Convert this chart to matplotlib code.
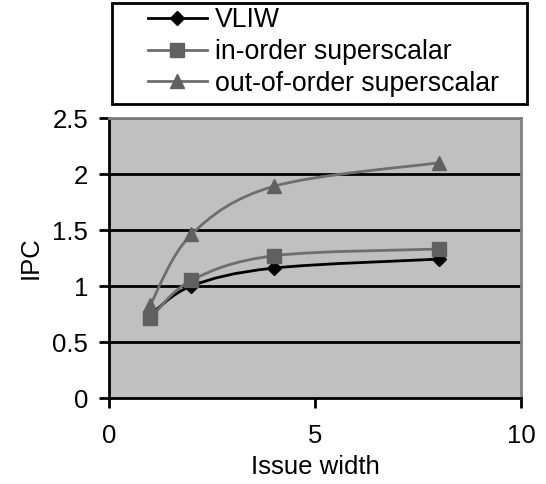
import numpy as np
import matplotlib.pyplot as plt
from matplotlib.path import Path
from matplotlib.patches import PathPatch, Rectangle
from matplotlib.lines import Line2D

plt.rcParams['font.family'] = ['Liberation Sans', 'DejaVu Sans']

issue_width = [1, 2, 4, 8]
vliw = [0.74, 1.00, 1.16, 1.24]
in_order = [0.71, 1.05, 1.27, 1.33]
out_of_order = [0.83, 1.46, 1.89, 2.10]
labels = ['VLIW', 'in-order superscalar', 'out-of-order superscalar']


def smooth_path(x, y):
    # Excel-style smoothed line: cubic bezier segments (catmull-rom tangents)
    pts = np.column_stack([x, y]).astype(float)
    ext = np.vstack([pts[0], pts, pts[-1]])
    verts = [pts[0]]
    codes = [Path.MOVETO]
    for i in range(1, len(ext) - 2):
        p0, p1, p2, p3 = ext[i - 1], ext[i], ext[i + 1], ext[i + 2]
        verts += [p1 + (p2 - p0) / 6, p2 - (p3 - p1) / 6, p2]
        codes += [Path.CURVE4] * 3
    return Path(verts, codes)


W, H = 546, 484
fig = plt.figure(figsize=(W / 100, H / 100), dpi=100)
ax = fig.add_axes([109 / W, 1 - 398 / H, 412 / W, 280 / H])
ax.set_facecolor('#c0c0c0')

styles = [
    (vliw, 'black', 'D', 'black', 7),
    (in_order, '#6e6e6e', 's', '#606060', 10),
    (out_of_order, '#6e6e6e', '^', '#606060', 10),
]
handles = []
for (vals, col, mk, mcol, ms), lab in zip(styles, labels):
    ax.add_patch(PathPatch(smooth_path(issue_width, vals), fill=False,
                           edgecolor=col, lw=2, zorder=3))
    ax.plot(issue_width, vals, linestyle='none', marker=mk, color=mcol,
            markersize=ms, zorder=4)
    handles.append(Line2D([], [], color=col, lw=2, marker=mk, markerfacecolor=mcol,
                          markeredgecolor=mcol, markersize=ms))

ax.set_xlim(0, 10)
ax.set_ylim(0, 2.5)
ax.set_xticks([0, 5, 10])
ax.set_yticks(np.arange(0, 2.51, 0.5))
ax.set_yticklabels(['0', '0.5', '1', '1.5', '2', '2.5'])
for yv in np.arange(0.5, 2.51, 0.5):
    ax.axhline(yv, color='black', lw=2, zorder=1)
ax.tick_params(labelsize=18.5, width=2, length=7, direction='out')
ax.tick_params(axis='y', pad=8)
ax.tick_params(axis='x', pad=12)
for s in ['left', 'bottom']:
    ax.spines[s].set_linewidth(2)
    ax.spines[s].set_color('black')
for s in ['top', 'right']:
    ax.spines[s].set_linewidth(2)
    ax.spines[s].set_color('#808080')
ax.set_xlabel('Issue width', fontsize=18.5, labelpad=5)
ax.set_ylabel('IPC', fontsize=18.5, labelpad=7)

# legend box drawn separately so the entries can sit inset like the original
fig.patches.append(Rectangle((112 / W, 1 - 104 / H), 415 / W, 101 / H,
                             transform=fig.transFigure, facecolor='white',
                             edgecolor='black', lw=2, zorder=0))
leg = fig.legend(handles=handles, labels=labels, loc='upper left',
                 bbox_to_anchor=(148 / W, 1 - 7 / H), fontsize=19.2, frameon=False,
                 handlelength=2.2, handletextpad=0.3, labelspacing=0.22,
                 borderpad=0, borderaxespad=0, numpoints=1)

fig.savefig('out.png', dpi=100)
